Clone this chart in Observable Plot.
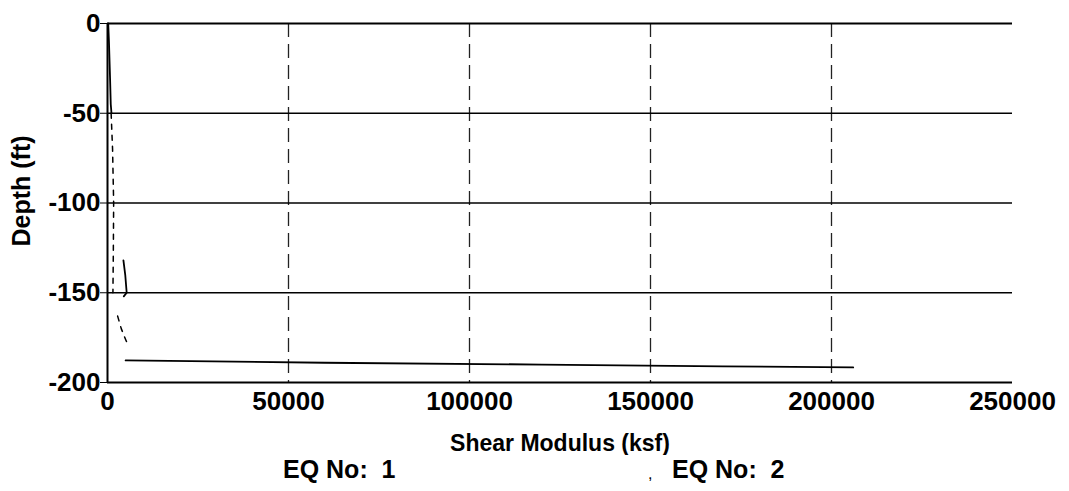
<!DOCTYPE html>
<html>
<head>
<meta charset="utf-8">
<script src="https://cdn.jsdelivr.net/npm/d3@7"></script>
<script src="https://cdn.jsdelivr.net/npm/@observablehq/plot@0.6"></script>
<style>
  html, body { margin: 0; padding: 0; background: #fff; }
  #chart { width: 1069px; }
  #legend { position: relative; width: 1069px; height: 36px; font-family: "Liberation Sans", Arial, sans-serif; font-weight: bold; font-size: 25px; color: #000; }
  #legend span { position: absolute; top: 0px; white-space: pre; }
</style>
</head>
<body>
<div id="chart"></div>
<div id="legend">
  <span style="left:283px">EQ No:  1</span>
  <span style="left:648px; font-weight:normal; font-size:16px; top:10px">,</span>
  <span style="left:672px">EQ No:  2</span>
</div>
<script>
// Series: shear modulus (ksf) vs depth (ft); NaN marks a gap in the traced curve
const eq1Modulus = [200, 400, 700, 900, 1100, NaN, 4400, 4900, 5300, 4500, NaN, 5000, 60000, 120000, 170000, 206000];
const eq1Depth   = [0, -10, -30, -45, -50, NaN, -132, -140, -150, -152, NaN, -187.7, -189, -190, -191, -191.6];

const eq2Modulus = [1000, 1400, 1700, 1600, 1500, NaN, 2800, 3800, 5000, 5800];
const eq2Depth   = [-50, -70, -100, -130, -150, NaN, -163, -170, -176, -180];

const xTicks = [0, 50000, 100000, 150000, 200000, 250000];
const yTicks = [0, -50, -100, -150, -200];
const xGrid = [50000, 100000, 150000, 200000];
const yGrid = [-50, -100, -150];

const eq1 = eq1Modulus.map((m, i) => ({modulus: m, depth: eq1Depth[i]}));
const eq2 = eq2Modulus.map((m, i) => ({modulus: m, depth: eq2Depth[i]}));

const fmt = d => String(d);

const chart = Plot.plot({
  width: 1069,
  height: 455,
  marginLeft: 107,
  marginRight: 57,
  marginTop: 23,
  marginBottom: 73,
  style: {fontFamily: "'Liberation Sans', Arial, sans-serif", fontWeight: "bold", fontSize: "26px", color: "#000", background: "#fff"},
  x: {domain: [0, 250000]},
  y: {domain: [-200, 0]},
  marks: [
    Plot.ruleX(xGrid, {stroke: "#222", strokeWidth: 1.3, strokeDasharray: "14,7"}),
    Plot.ruleY(yGrid, {stroke: "#000", strokeWidth: 1.6}),
    Plot.ruleY([0], {stroke: "#000", strokeWidth: 2}),
    Plot.ruleY([-200], {stroke: "#000", strokeWidth: 2}),
    Plot.ruleX([0], {stroke: "#000", strokeWidth: 2}),
    Plot.line(eq2, {x: "modulus", y: "depth", stroke: "#000", strokeWidth: 1.5, strokeDasharray: "5,6"}),
    Plot.line(eq1, {x: "modulus", y: "depth", stroke: "#000", strokeWidth: 1.8}),
    Plot.axisX(xTicks, {tickFormat: fmt, tickSize: 0, tickPadding: 9, fontSize: 26, label: null}),
    Plot.axisY(yTicks, {tickFormat: fmt, tickSize: 7, tickPadding: 0, fontSize: 26, label: null}),
    Plot.text(["Shear Modulus (ksf)"], {frameAnchor: "bottom", dy: 68, fontSize: 23, fontWeight: "bold"}),
    Plot.text(["Depth (ft)"], {frameAnchor: "left", textAnchor: "middle", dx: -86, dy: -12, rotate: -90, fontSize: 25, fontWeight: "bold"})
  ]
});
document.getElementById("chart").appendChild(chart);
</script>
</body>
</html>
